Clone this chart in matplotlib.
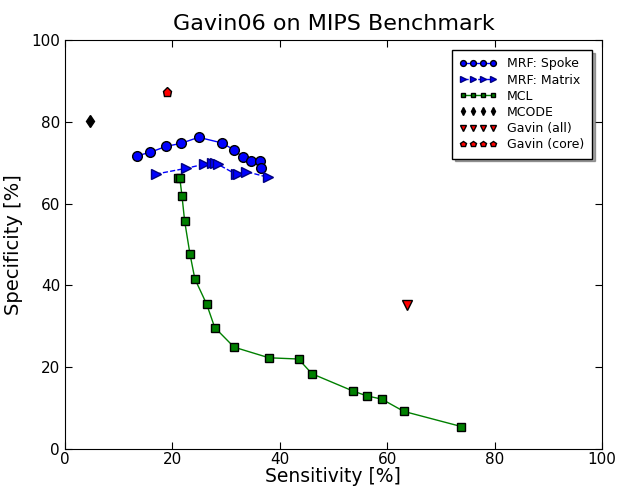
import matplotlib
matplotlib.use('Agg')
import matplotlib.pyplot as plt

spoke_x = [13.5, 15.8, 18.9, 21.6, 24.9, 29.3, 31.5, 33.1, 34.6, 36.3, 36.6]
spoke_y = [71.7, 72.5, 74.0, 74.7, 76.2, 74.8, 73.1, 71.4, 70.4, 70.4, 68.8]

matrix_x = [16.9, 22.5, 25.9, 27.3, 27.9, 28.5, 31.8, 32.3, 33.8, 37.9]
matrix_y = [67.2, 68.6, 69.6, 69.8, 69.8, 69.6, 67.2, 67.2, 67.8, 66.4]

mcl_x = [21.0, 21.4, 21.8, 22.3, 23.3, 24.2, 26.4, 27.9, 31.5, 38.0, 43.5, 46.0,
         53.6, 56.2, 59.0, 63.1, 73.8]
mcl_y = [66.3, 66.2, 61.9, 55.7, 47.6, 41.6, 35.4, 29.7, 24.9, 22.3, 22.0, 18.4,
         14.2, 13.0, 12.2, 9.2, 5.5]

mcode_x = [4.7]
mcode_y = [80.2]

gavin_all_x = [63.7]
gavin_all_y = [35.2]

gavin_core_x = [19.0]
gavin_core_y = [87.3]

plt.rcParams['font.family'] = 'DejaVu Sans'
fig = plt.figure(figsize=(6.18, 4.87), dpi=100)
ax = fig.add_axes([0.105, 0.078, 0.869, 0.84])

ax.plot(spoke_x, spoke_y, 'o-', color='blue', mec='black', ms=7, lw=1,
        label='MRF: Spoke')
ax.plot(matrix_x, matrix_y, '>--', color='blue', mec='#000080', ms=7, lw=1,
        label='MRF: Matrix')
ax.plot(mcl_x, mcl_y, 's-', color='green', mfc='green', mec='black', ms=6, lw=1,
        label='MCL')
ax.plot(mcode_x, mcode_y, 'd', color='black', ms=6.5, label='MCODE')
ax.plot(gavin_all_x, gavin_all_y, 'v', color='red', mec='black', ms=6.5,
        label='Gavin (all)')
ax.plot(gavin_core_x, gavin_core_y, 'p', color='red', mec='black', ms=6.5,
        label='Gavin (core)')

ax.set_xlim(0, 100)
ax.set_ylim(0, 100)
ax.set_xticks(range(0, 101, 20))
ax.set_yticks(range(0, 101, 20))
ax.tick_params(direction='in', top=True, right=True, labelsize=11, length=5)
ax.tick_params(axis='x', pad=2)
ax.set_xlabel('Sensitivity [%]', fontsize=13.5, labelpad=0)
ax.set_ylabel('Specificity [%]', fontsize=14, labelpad=6)
ax.set_title('Gavin06 on MIPS Benchmark', fontsize=16, pad=7)

leg = ax.legend(loc='upper right', numpoints=4, fontsize=9, shadow=True,
                fancybox=False, markerscale=0.6, borderaxespad=0.8,
                handlelength=3, labelspacing=0.25, borderpad=0.6)
leg.get_frame().set_edgecolor('black')

fig.savefig('out.png', dpi=100)
